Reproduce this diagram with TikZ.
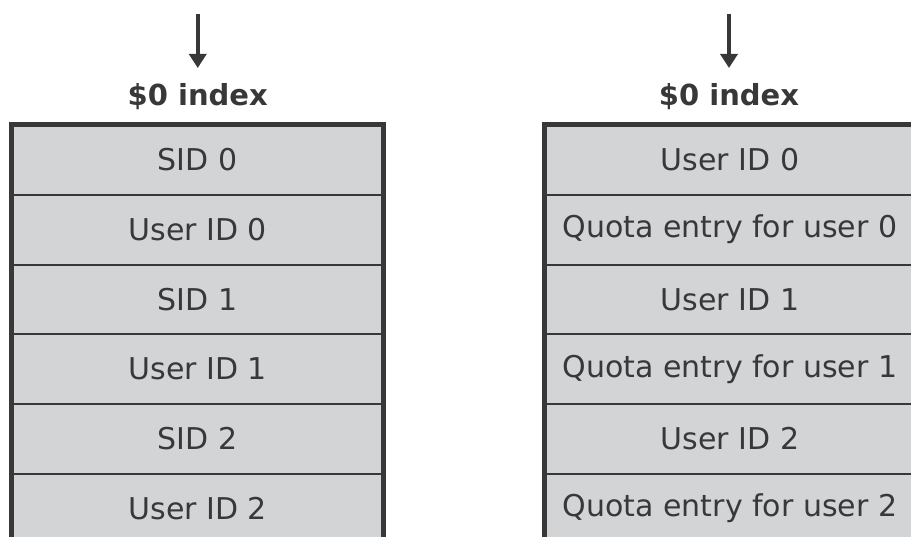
\documentclass[tikz,border=0pt]{standalone}
\usepackage{fontspec}
\setmainfont{DejaVu Sans}
\usepackage{xcolor}
\definecolor{quotagray}{RGB}{211,212,214}
\definecolor{quotadark}{RGB}{56,56,56}
\usepackage{tikz}
\usetikzlibrary{arrows.meta,positioning,calc}

\begin{document}
\begin{tikzpicture}[x=1pt,y=1pt,>=Latex,
  cell/.style={draw=quotadark, fill=quotagray, line width=2pt, minimum width=370pt, minimum height=69.7pt, inner sep=0pt, text=quotadark, font=\fontsize{30}{36}\selectfont},
  outline/.style={draw=quotadark, line width=5pt},
  idxlabel/.style={anchor=north, inner sep=0pt, text=quotadark, font=\fontsize{29}{34}\selectfont\bfseries},
  idxarrow/.style={draw=quotadark, line width=4pt, -{Triangle[width=17pt,length=14pt]}, shorten >=15pt}]
\useasboundingbox (0,0) rectangle (911,537);
\clip (0,0) rectangle (911,537);

% left: $0 index with SID / user ID pairs
\coordinate (ltop) at (197.75,523);
\node[idxlabel] (lhead) at (197.75,454) {\$0 index};
\draw[idxarrow] (ltop) -- (lhead.north);
\foreach \idx/\name in {1/SID 0,2/User ID 0,3/SID 1,4/User ID 1,5/SID 2,6/User ID 2}{
  \pgfmathsetmacro{\y}{377-(\idx-1)*69.7}
  \node[cell] (lrow\idx) at (197.75,\y) {\name};
}
\draw[outline] (lrow6.south west) -- (lrow1.north west) -- (lrow1.north east) -- (lrow6.south east);

% right: $0 index with user ID / quota entries
\coordinate (rtop) at (729,523);
\node[idxlabel] (rhead) at (729,454) {\$0 index};
\draw[idxarrow] (rtop) -- (rhead.north);
\foreach \idx/\name in {1/User ID 0,2/Quota entry for user 0,3/User ID 1,4/Quota entry for user 1,5/User ID 2,6/Quota entry for user 2}{
  \pgfmathsetmacro{\y}{377-(\idx-1)*69.7}
  \node[cell] (rrow\idx) at (730,\y) {\name};
}
\draw[outline] (rrow6.south west) -- (rrow1.north west) -- (rrow1.north east) -- (rrow6.south east);
\end{tikzpicture}
\end{document}
